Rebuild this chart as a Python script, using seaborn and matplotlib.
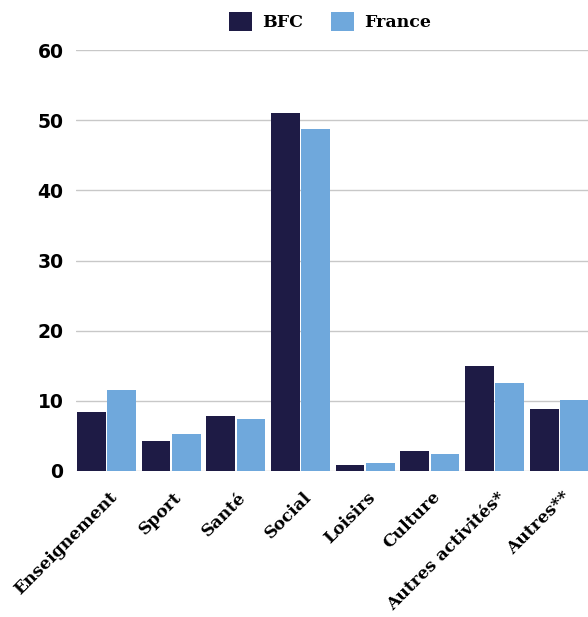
import pandas as pd
import numpy as np
import seaborn as sns
import matplotlib.pyplot as plt
import matplotlib.transforms as mtransforms
from matplotlib.patches import Patch

categories = ['Enseignement', 'Sport', 'Santé', 'Social', 'Loisirs', 'Culture',
              'Autres activités*', 'Autres**']
bfc = [8.4, 4.3, 7.9, 51.0, 0.9, 2.9, 14.9, 8.9]
france = [11.6, 5.3, 7.4, 48.7, 1.1, 2.4, 12.6, 10.1]
series = ['BFC', 'France']
colors = ['#1e1b45', '#6fa8dc']

df = pd.DataFrame({
    'cat': categories * 2,
    'val': bfc + france,
    'serie': ['BFC'] * len(bfc) + ['France'] * len(france),
})

sns.set_style('white')
plt.rcParams['font.family'] = ['DejaVu Sans']
plt.rcParams['text.color'] = 'black'
plt.rcParams['xtick.color'] = 'black'
plt.rcParams['ytick.color'] = 'black'

fig = plt.figure(figsize=(5.88, 6.17), dpi=100)
ax = fig.add_axes([76 / 588, 1 - 471 / 617, 1 - 76 / 588 + 0.003, (471 - 50) / 617])

sns.barplot(data=df, x='cat', y='val', hue='serie', hue_order=series,
            palette=colors, width=0.935, gap=0.05, saturation=1,
            edgecolor='none', ax=ax, legend=False)

ax.set_ylim(0, 60)
ax.set_xlim(-0.47, 7.47)
ax.set_yticks(range(0, 61, 10))
ax.yaxis.grid(True, color='#c8c8c8', linewidth=1)
ax.set_axisbelow(True)
for s in ax.spines.values():
    s.set_visible(False)
ax.tick_params(axis='both', length=0)
ax.tick_params(axis='y', pad=9)
ax.tick_params(axis='x', pad=4)
ax.set_xlabel('')
ax.set_ylabel('')
for lab in ax.get_yticklabels():
    lab.set_fontweight('bold')
    lab.set_fontsize(13.5)

ax.set_xticks(range(len(categories)))
ax.set_xticklabels(categories, rotation=45, ha='right', rotation_mode='anchor',
                   fontsize=12.3, fontweight='bold', family='DejaVu Serif')
offset = mtransforms.ScaledTranslation(2 / 100, -12 / 100, fig.dpi_scale_trans)
for lab in ax.get_xticklabels():
    lab.set_transform(lab.get_transform() + offset)

# legend
handles = [Patch(facecolor=c, edgecolor='none') for c in colors]
leg = fig.legend(handles, series, loc='center', bbox_to_anchor=(330 / 588, 1 - 21.5 / 617),
                 ncol=2, frameon=False, handlelength=1.32, handleheight=1.32,
                 columnspacing=1.6, handletextpad=0.57,
                 prop={'family': 'DejaVu Serif', 'weight': 'bold', 'size': 12.5})

fig.savefig('out.png', dpi=100)
